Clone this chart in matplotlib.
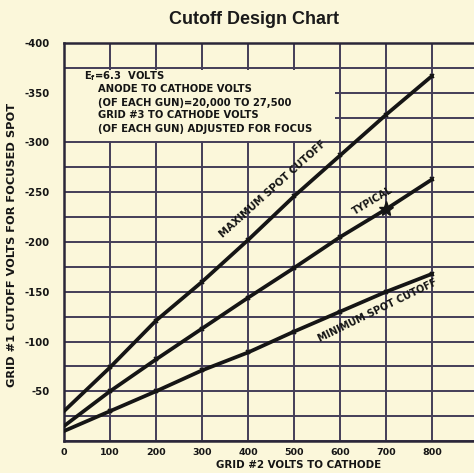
import matplotlib
matplotlib.use("Agg")
import matplotlib.pyplot as plt
from matplotlib.patches import Rectangle
from matplotlib.ticker import MultipleLocator

plt.rcParams['font.family'] = ['DejaVu Sans']
plt.rcParams['mathtext.default'] = 'bf'

# Grid #2 voltage (x) and grid #1 cutoff voltage (y) for each curve
grid2_volts = [0, 100, 200, 300, 400, 500, 600, 700, 800]
max_cutoff = [-30, -74, -121, -160, -202, -246, -287, -328, -367]
typical_cutoff = [-15, -50, -82, -113, -144, -174, -205, -233, -263]
min_cutoff = [-10, -30, -50, -71, -89, -110, -130, -150, -168]

x_ticks = [0, 100, 200, 300, 400, 500, 600, 700, 800]
x_tick_labels = ["0", "100", "200", "300", "400", "500", "600", "700", "800"]
y_ticks = [-400, -350, -300, -250, -200, -150, -100, -50]
y_tick_labels = ["-400", "-350", "-300", "-250", "-200", "-150", "-100", "-50"]

notes = [
    "ANODE TO CATHODE VOLTS",
    "(OF EACH GUN)=20,000 TO 27,500",
    "GRID #3 TO CATHODE VOLTS",
    "(OF EACH GUN) ADJUSTED FOR FOCUS",
]

paper = "#FBF7DA"
ink = "#151515"
grid_col = "#433d58"

W, H = 474, 473
fig = plt.figure(figsize=(W / 100, H / 100), dpi=100, facecolor=paper)
left_px, right_px, top_px, bottom_px = 64, 474, 43, 441
ax = fig.add_axes([left_px / W, 1 - bottom_px / H,
                   (right_px - left_px) / W, (bottom_px - top_px) / H])
ax.set_facecolor(paper)

ax.set_xlim(0, 891)
ax.set_ylim(0, -400)

ax.set_xticks(x_ticks)
ax.set_xticklabels(x_tick_labels, fontsize=6.8, fontweight='bold', color=ink)
ax.set_yticks(y_ticks)
ax.set_yticklabels(y_tick_labels, fontsize=7.3, fontweight='bold', color=ink)
ax.yaxis.set_minor_locator(MultipleLocator(25))
ax.tick_params(axis='both', which='both', length=0)
ax.tick_params(axis='x', pad=5)
ax.tick_params(axis='y', pad=10)

ax.grid(True, which='both', axis='y', color=grid_col, lw=1.4)
ax.grid(True, which='major', axis='x', color=grid_col, lw=1.4)
ax.set_axisbelow(True)

for side in ('left', 'top', 'bottom'):
    ax.spines[side].set_color('#2a2638')
    ax.spines[side].set_linewidth(1.8)
ax.spines['right'].set_visible(False)

# blank panel behind the notes
ax.add_patch(Rectangle((3, -302), 585, -71, facecolor=paper,
                       edgecolor='none', zorder=1.5))

line_kw = dict(color=ink, lw=2.7, solid_capstyle='round', zorder=3,
               marker='x', markersize=3.5, markeredgewidth=1.2,
               markevery=slice(1, None))
ax.plot(grid2_volts, max_cutoff, **line_kw)
ax.plot(grid2_volts, typical_cutoff, **line_kw)
ax.plot(grid2_volts, min_cutoff, **line_kw)
ax.plot([grid2_volts[7]], [typical_cutoff[7]], marker='*', color=ink,
        markersize=11, zorder=4)

lab_kw = dict(fontweight='bold', color=ink, ha='center', va='center',
              rotation_mode='anchor', zorder=5)
ax.text(455, -253, "MAXIMUM SPOT CUTOFF", rotation=42, fontsize=7.3, **lab_kw)
ax.text(672, -241, "TYPICAL", rotation=31, fontsize=7, **lab_kw)
ax.text(682, -131, "MINIMUM SPOT CUTOFF", rotation=26, fontsize=7, **lab_kw)

# heater / electrode notes
fig.text(84 / W, 1 - 76 / H, r"E$_f$=6.3  VOLTS", fontsize=7.2,
         fontweight='bold', color=ink, va='center')
for i, s in enumerate(notes):
    fig.text(98 / W, 1 - (89.5 + 13 * i) / H, s, fontsize=7.2,
             fontweight='bold', color=ink, va='center')

fig.text(254 / W, 1 - 19 / H, "Cutoff Design Chart", fontsize=13,
         fontweight='bold', family='Liberation Sans', color='#1a1a1a',
         ha='center', va='center')
fig.text(299 / W, 1 - 465 / H, "GRID #2 VOLTS TO CATHODE", fontsize=7.4,
         fontweight='bold', color=ink, ha='center', va='center')
fig.text(12 / W, 1 - 245 / H, "GRID #1 CUTOFF VOLTS FOR FOCUSED SPOT",
         fontsize=8.2, fontweight='bold', color=ink, ha='center',
         va='center', rotation=90)

fig.savefig("out.png", dpi=100, facecolor=paper)
